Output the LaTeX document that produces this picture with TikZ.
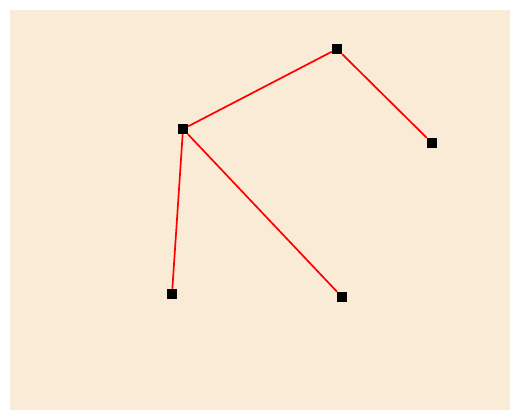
\documentclass[tikz,border=0pt]{standalone}
\usetikzlibrary{positioning}
\definecolor{paper}{RGB}{250,235,215}
\tikzset{vtx/.style={rectangle,fill=black,inner sep=0pt,minimum size=10pt},edge/.style={red,line width=1.7pt}}

\begin{document}
\begin{tikzpicture}[x=1pt,y=-1pt]
\useasboundingbox (0,0) rectangle (510,410);
\fill[paper] (10,10) rectangle (510,410);
\node[vtx] (top) at (337,49) {};
\node[vtx] (mid) at (183,129) {};
\node[vtx] (right) at (432,143) {};
\node[vtx] (low) at (172,294) {};
\node[vtx] (lowr) at (342,297) {};
\draw[edge] (top) -- (mid);
\draw[edge] (top) -- (right);
\draw[edge] (mid) -- (low);
\draw[edge] (mid) -- (lowr);
\end{tikzpicture}
\end{document}
